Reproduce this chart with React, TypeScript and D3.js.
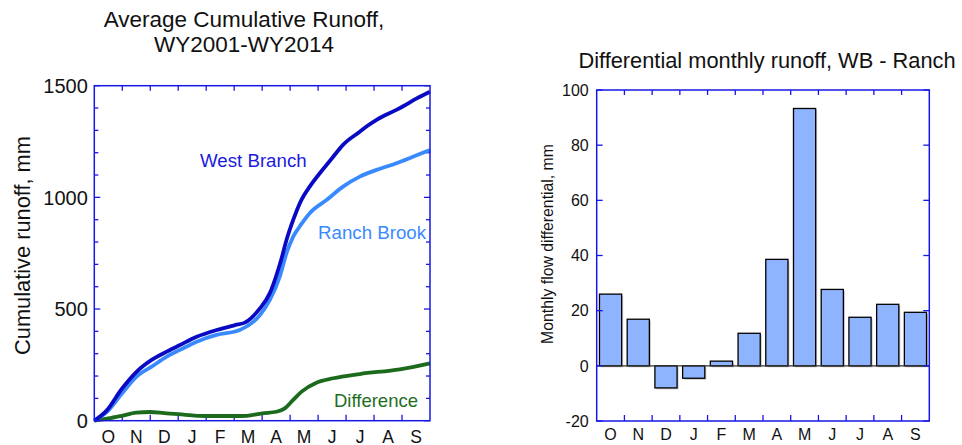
import React from "react";
import * as d3 from "d3";

// ---------- DATA ----------
const monthLabels = ["O", "N", "D", "J", "F", "M", "A", "M", "J", "J", "A", "S"];

// cumulative runoff (fractional month of water year, mm)
const westBranchMonth = [0, 0.44, 0.98, 1.51, 2.05, 2.59, 3.06, 3.66, 4.37, 5.03, 5.38, 5.92, 6.27, 6.57, 6.69, 6.87, 7.11, 7.4, 7.7, 8.06, 8.3, 8.54, 8.89, 9.49, 9.73, 10.09, 10.8, 11.04, 11.51, 12];
const westBranchValue = [0, 45, 142, 219, 272, 309, 339, 376, 406, 428, 439, 503, 570, 675, 725, 809, 899, 988, 1048, 1108, 1145, 1182, 1235, 1294, 1317, 1347, 1392, 1408, 1442, 1473];

const ranchBrookMonth = [0, 0.44, 0.98, 1.51, 2.05, 2.59, 3.06, 3.66, 4.37, 5.2, 5.92, 6.27, 6.63, 6.87, 7.11, 7.4, 7.7, 8.3, 8.89, 9.49, 10.09, 10.8, 11.39, 12];
const ranchBrookValue = [0, 38, 120, 197, 242, 287, 317, 354, 384, 406, 473, 540, 645, 750, 824, 880, 929, 988, 1048, 1093, 1123, 1153, 1182, 1212];

const differenceMonth = [0, 0.5, 0.98, 1.5, 1.99, 2.5, 3.0, 4.0, 5.02, 5.44, 6.0, 6.51, 6.81, 7.11, 7.41, 7.94, 8.54, 9.49, 10.92, 12];
const differenceValue = [0, 10, 22, 36, 39, 34, 29, 21, 21, 22, 33, 40, 55, 93, 130, 170, 190, 209, 230, 257];

const cumTicks = [0, 500, 1000, 1500];
const monthlyDiff = [26, 16.9, -8, -4.5, 1.7, 11.8, 38.6, 93.3, 27.7, 17.6, 22.3, 19.4];
const diffTicks = [-20, 0, 20, 40, 60, 80, 100];

// ---------- STYLE ----------
const FONT = "'Liberation Sans', Arial, Helvetica, sans-serif";
const FRAME = "#1717E6";
const WB_COLOR = "#0A0AC4";
const RB_COLOR = "#3A8AFF";
const DIFF_COLOR = "#1C6A1C";

export default function App() {
  // Left chart scales
  const L = { x0: 94.3, x1: 430, y0: 85.7, y1: 420.7 };
  const xL = d3.scaleLinear().domain([0, 12]).range([L.x0, L.x1]);
  const yL = d3.scaleLinear().domain([0, 1500]).range([L.y1, L.y0]);
  const line = d3
    .line<[number, number]>()
    .x((d) => xL(d[0]))
    .y((d) => yL(d[1]))
    .curve(d3.curveMonotoneX);
  const zip = (a: number[], b: number[]) => a.map((m, i) => [m, b[i]] as [number, number]);

  const minorL = d3.range(0, 1501, 100);
  const monthBounds = d3.range(1, 12);

  // Right chart scales
  const R = { x0: 596.7, x1: 929.3, y0: 90, y1: 421 };
  const xR = d3.scaleBand<number>().domain(d3.range(12)).range([R.x0, R.x1]).paddingInner(0.2).paddingOuter(0.1);
  const xRb = d3.scaleLinear().domain([0, 12]).range([R.x0, R.x1]);
  const yR = d3.scaleLinear().domain([-20, 100]).range([R.y1, R.y0]);

  return (
    <svg
      width={962}
      height={445}
      style={{ position: "absolute", left: 0, top: 0, background: "#fff" }}
      fontFamily={FONT}
    >
      <rect width={962} height={445} fill="#fff" />
      {/* ---------- LEFT CHART ---------- */}
      <text x={244} y={27} textAnchor="middle" fontSize={22.5} fill="#111">
        Average Cumulative Runoff,
      </text>
      <text x={244} y={52} textAnchor="middle" fontSize={22.5} fill="#111">
        WY2001-WY2014
      </text>
      <text
        transform={`translate(30,${245.5}) rotate(-90)`}
        textAnchor="middle"
        fontSize={21.8}
        fill="#111"
      >
        Cumulative runoff, mm
      </text>

      {/* y ticks */}
      {minorL.map((v) => {
        const major = v % 500 === 0;
        const len = major ? 6 : 4;
        return (
          <g key={"yl" + v}>
            <line x1={L.x0} x2={L.x0 + len} y1={yL(v)} y2={yL(v)} stroke={FRAME} strokeWidth={1.3} />
            <line x1={L.x1} x2={L.x1 - len} y1={yL(v)} y2={yL(v)} stroke={FRAME} strokeWidth={1.3} />
          </g>
        );
      })}
      {cumTicks.map((v) => (
        <text key={"ylt" + v} x={L.x0 - 6.5} y={yL(v)} dy="0.36em" textAnchor="end" fontSize={20} fill="#111">
          {v}
        </text>
      ))}
      {monthBounds.map((m) => (
        <g key={"xl" + m}>
          <line x1={xL(m)} x2={xL(m)} y1={L.y0} y2={L.y0 + 5} stroke={FRAME} strokeWidth={1.3} />
          <line x1={xL(m)} x2={xL(m)} y1={L.y1} y2={L.y1 - 6} stroke={FRAME} strokeWidth={1.3} />
        </g>
      ))}
      {monthLabels.map((m, i) => (
        <text key={"mll" + i} x={xL(i + 0.5)} y={442.5} textAnchor="middle" fontSize={17.5} fill="#111">
          {m}
        </text>
      ))}

      <path d={line(zip(differenceMonth, differenceValue)) || ""} fill="none" stroke={DIFF_COLOR} strokeWidth={3.8} strokeLinejoin="round" />
      <path d={line(zip(ranchBrookMonth, ranchBrookValue)) || ""} fill="none" stroke={RB_COLOR} strokeWidth={3.8} strokeLinejoin="round" />
      <path d={line(zip(westBranchMonth, westBranchValue)) || ""} fill="none" stroke={WB_COLOR} strokeWidth={3.8} strokeLinejoin="round" />

      <rect x={L.x0} y={L.y0} width={L.x1 - L.x0} height={L.y1 - L.y0} fill="none" stroke={FRAME} strokeWidth={1.5} />

      <text x={200} y={167} fontSize={18.7} fill="#1A1AE0">West Branch</text>
      <text x={318} y={239} fontSize={18.7} fill={RB_COLOR}>Ranch Brook</text>
      <text x={334} y={407} fontSize={18.5} fill="#1F6E1F">Difference</text>

      {/* ---------- RIGHT CHART ---------- */}
      <text x={767} y={68} textAnchor="middle" fontSize={21.8} fill="#111">
        Differential monthly runoff, WB - Ranch
      </text>
      <text
        transform={`translate(553,244) rotate(-90)`}
        textAnchor="middle"
        fontSize={15.8}
        fill="#111"
      >
        Monthly flow differential, mm
      </text>

      {monthlyDiff.map((v, i) => {
        const x = xR(i) as number;
        const w = xR.bandwidth();
        const yTop = yR(Math.max(0, v));
        const h = Math.abs(yR(v) - yR(0));
        return (
          <g key={"bar" + i}>
            <rect x={x + 1.5} y={yTop + 1.5} width={w} height={h} fill="#9a9a9a" opacity={0.55} />
            <rect x={x} y={yTop} width={w} height={h} fill="#8FB4FF" stroke="#000" strokeWidth={1.3} />
          </g>
        );
      })}
      <line x1={R.x0} x2={R.x1} y1={yR(0)} y2={yR(0)} stroke="#333" strokeWidth={1.2} />

      {diffTicks.map((v) => (
        <g key={"yr" + v}>
          <line x1={R.x0} x2={R.x0 + 6} y1={yR(v)} y2={yR(v)} stroke={FRAME} strokeWidth={1.3} />
          <line x1={R.x1} x2={R.x1 - 6} y1={yR(v)} y2={yR(v)} stroke={FRAME} strokeWidth={1.3} />
          <text x={R.x0 - 8} y={yR(v)} dy="0.36em" textAnchor="end" fontSize={16} fill="#111">
            {v}
          </text>
        </g>
      ))}
      {monthBounds.map((m) => (
        <g key={"xr" + m}>
          <line x1={xRb(m)} x2={xRb(m)} y1={R.y0} y2={R.y0 + 5} stroke={FRAME} strokeWidth={1.3} />
          <line x1={xRb(m)} x2={xRb(m)} y1={R.y1} y2={R.y1 - 6} stroke={FRAME} strokeWidth={1.3} />
        </g>
      ))}
      {monthLabels.map((m, i) => (
        <text key={"mlr" + i} x={xRb(i + 0.5)} y={440} textAnchor="middle" fontSize={16} fill="#111">
          {m}
        </text>
      ))}
      <rect x={R.x0} y={R.y0} width={R.x1 - R.x0} height={R.y1 - R.y0} fill="none" stroke={FRAME} strokeWidth={1.5} />
    </svg>
  );
}
